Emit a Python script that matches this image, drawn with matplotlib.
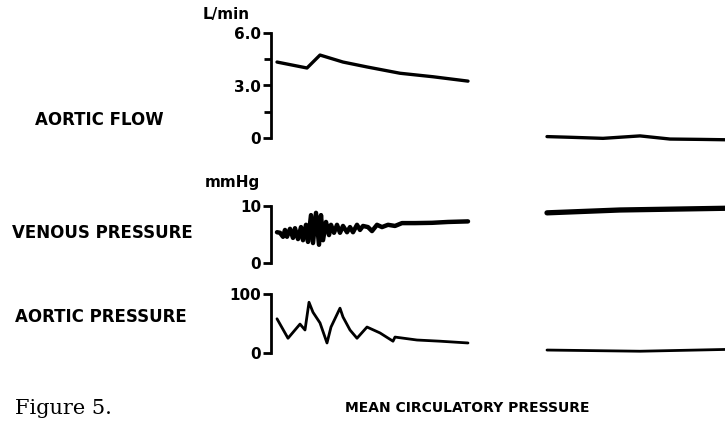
import matplotlib
matplotlib.use("Agg")
import matplotlib.pyplot as plt

# --- trace data (time in arbitrary chart units) ---
# aortic flow, L/min
flow_t = [6, 36, 49, 72, 96, 129, 162, 197]
flow_v = [4.34, 4.0, 4.74, 4.34, 4.06, 3.7, 3.5, 3.25]
flow_mcp_t = [276, 300, 332, 369, 399, 430, 454]
flow_mcp_v = [0.08, 0.04, -0.02, 0.12, -0.06, -0.08, -0.1]

# venous pressure, mmHg
ven_t = [6, 9, 12, 14, 16, 19, 22, 24, 27, 30, 32, 35, 37, 40, 42, 45, 48,
         50, 52, 55, 58, 60, 63, 66, 69, 72, 76, 79, 82, 86, 89, 92, 97,
         101, 106, 111, 117, 124, 131, 144, 161, 177, 197]
ven_v = [5.4, 5.3, 4.6, 5.8, 4.6, 6.0, 4.4, 6.1, 4.2, 6.3, 4.0, 6.7, 3.7,
         8.4, 3.5, 8.8, 3.2, 8.4, 4.0, 7.2, 4.9, 6.7, 5.3, 6.7, 5.3, 6.5,
         5.4, 6.3, 5.4, 6.7, 5.8, 6.5, 6.3, 5.6, 6.7, 6.3, 6.7, 6.5, 7.0,
         7.0, 7.05, 7.2, 7.3]
ven_mcp_t = [276, 349, 454]
ven_mcp_v = [8.8, 9.3, 9.6]

# aortic pressure, mmHg
ap_t = [6, 17, 29, 34, 38, 42, 49, 56, 60, 69, 72, 79, 86, 96, 109, 122,
        124, 146, 169, 197]
ap_v = [58, 25, 49, 39, 86, 69, 51, 17, 44, 76, 61, 39, 25, 44, 34, 20,
        27, 22, 20, 17]
ap_mcp_t = [276, 369, 454]
ap_mcp_v = [5, 3, 6]

W, H = 725, 428
fig = plt.figure(figsize=(W / 100, H / 100), dpi=100)
fig.patch.set_facecolor("white")

SANS = "DejaVu Sans"


def make_axes(top_px, bottom_px, ymax):
    ax = fig.add_axes([271 / W, 1 - bottom_px / H, 454 / W,
                       (bottom_px - top_px) / H])
    ax.set_xlim(0, 454)
    ax.set_ylim(0, ymax)
    for side in ("top", "right", "bottom"):
        ax.spines[side].set_visible(False)
    ax.spines["left"].set_linewidth(2.0)
    ax.spines["left"].set_bounds(0, ymax)
    ax.set_xticks([])
    ax.tick_params(axis="y", direction="out", length=6, width=2.0,
                   pad=1, labelsize=11)
    ax.patch.set_alpha(0)
    return ax


def draw(ax, t, v, lw):
    ax.plot(t, v, color="black", lw=lw, solid_joinstyle="round",
            solid_capstyle="round", clip_on=False)


ax1 = make_axes(33, 138, 6.0)
ax1.set_yticks([0, 3.0, 6.0], ["0", "3.0", "6.0"])
ax1.set_yticks([1.5, 4.5], minor=True)
ax1.tick_params(axis="y", which="minor", direction="out", length=5, width=2.0)
draw(ax1, flow_t, flow_v, 2.4)
draw(ax1, flow_mcp_t, flow_mcp_v, 2.4)

ax2 = make_axes(206, 263, 10)
ax2.set_yticks([0, 10], ["0", "10"])
draw(ax2, ven_t, ven_v, 3.2)
draw(ax2, ven_mcp_t, ven_mcp_v, 3.8)

ax3 = make_axes(294, 353, 100)
ax3.set_yticks([0, 100], ["0", "100"])
draw(ax3, ap_t, ap_v, 2.0)
draw(ax3, ap_mcp_t, ap_mcp_v, 2.0)

for ax in (ax1, ax2, ax3):
    for lab in ax.get_yticklabels():
        lab.set_fontweight("bold")
        lab.set_family(SANS)


def ftext(x, y, s, **kw):
    fig.text(x / W, 1 - y / H, s, **kw)


lab_kw = dict(family=SANS, fontweight="bold", va="center")
ftext(35, 120, "AORTIC FLOW", fontsize=12, **lab_kw)
ftext(12, 233, "VENOUS PRESSURE", fontsize=12, **lab_kw)
ftext(15, 317, "AORTIC PRESSURE", fontsize=12, **lab_kw)
ftext(203, 15, "L/min", fontsize=11, **lab_kw)
ftext(205, 183, "mmHg", fontsize=11, **lab_kw)
ftext(15, 408, "Figure 5.", family="DejaVu Serif", fontsize=15, va="center")
ftext(345, 408, "MEAN CIRCULATORY PRESSURE", fontsize=10, **lab_kw)

fig.savefig("out.png", dpi=100, facecolor="white")
